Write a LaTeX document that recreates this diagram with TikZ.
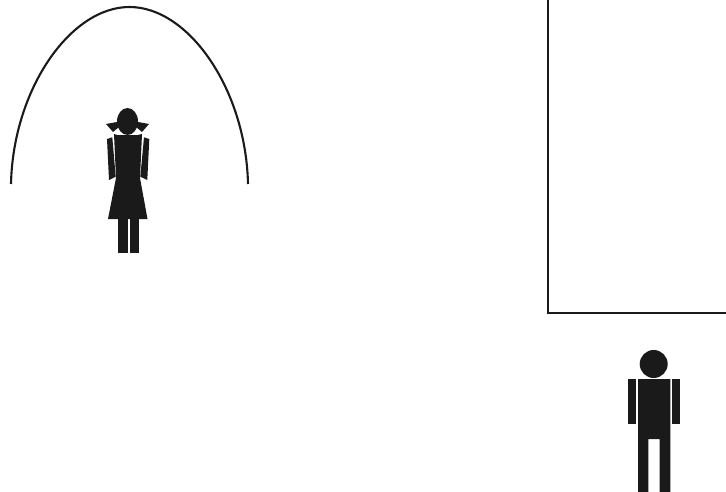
\documentclass[tikz,border=0pt]{standalone}
\definecolor{ink}{HTML}{1A1A1A}
\tikzset{figure/.style={fill=ink,draw=none},rule/.style={draw=ink,line width=2.1pt}}
\begin{document}
\begin{tikzpicture}[x=1pt,y=-1pt]
\useasboundingbox (0,0) rectangle (726,492);
% arc
\draw[rule] (11,184) .. controls (13,90) and (70,7) .. (129.5,7) .. controls (189,7) and (246,90) .. (248,184);
% room
\draw[rule] (548,0) -- (548,313) -- (726,313);
% girl
\fill[figure] (127.5,121.5) ellipse [x radius=10.5, y radius=13.5];
\fill[figure] (106,124) -- (117,122) -- (119,127) -- (113,132) -- cycle;
\fill[figure] (149,124) -- (138,122) -- (136,127) -- (142,132) -- cycle;
\fill[figure] (114,134) .. controls (119,136) and (122,135) .. (127.5,135) .. controls (133,135) and (136,136) .. (142,134) -- (140,178) -- (147.5,219) -- (108,219) -- (116,178) -- cycle;
\fill[figure] (107,139) -- (112.3,137.3) -- (115.7,176.7) -- (109,180) -- cycle;
\fill[figure] (149.3,139) -- (144,137.3) -- (140.3,176.7) -- (147.3,180) -- cycle;
\fill[figure] (118,219) rectangle (128,252.7);
\fill[figure] (130,219) rectangle (139,252.7);
% boy
\fill[figure] (653.7,364) circle [radius=14];
\fill[figure] (627.7,379) rectangle (636.3,424);
\fill[figure] (672,379) rectangle (680.3,424);
\fill[figure] (638,379) -- (670.3,379) -- (670.3,492) -- (659.7,492) -- (659.7,439) -- (648.3,439) -- (648.3,492) -- (638,492) -- cycle;
\end{tikzpicture}
\end{document}
